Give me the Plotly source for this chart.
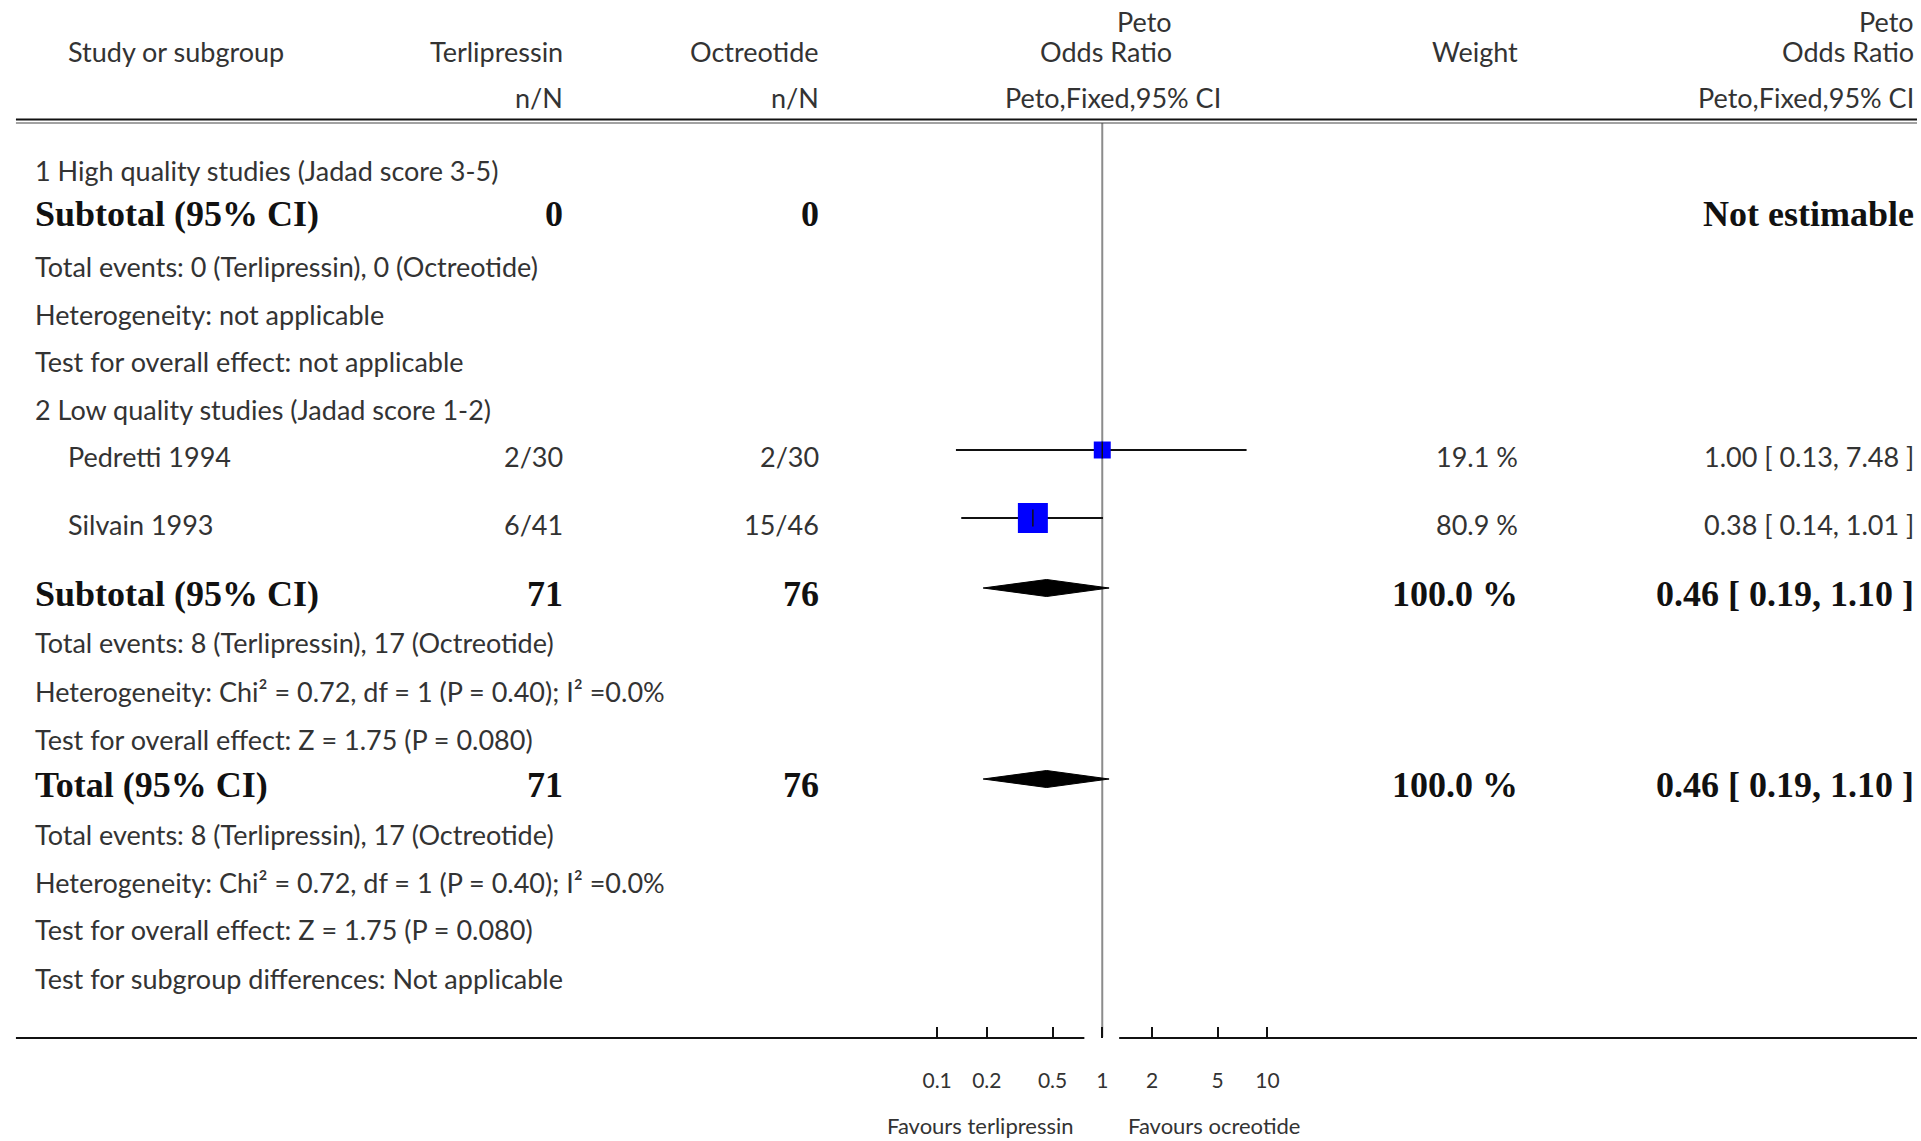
import plotly.graph_objects as go

# ---------------- data ----------------
studies = ["Pedretti 1994", "Silvain 1993"]
terli_events = [2, 6]
terli_total = [30, 41]
octr_events = [2, 15]
octr_total = [30, 46]
weights = [19.1, 80.9]
or_est = [1.00, 0.38]
or_lo = [0.13, 0.14]
or_hi = [7.48, 1.01]

sub_est, sub_lo, sub_hi = 0.46, 0.19, 1.10
tot_est, tot_lo, tot_hi = 0.46, 0.19, 1.10
sub_terli_N, sub_octr_N = 71, 76

tick_vals = [0.1, 0.2, 0.5, 1, 2, 5, 10]
tick_text = ["0.1", "0.2", "0.5", "1", "2", "5", "10"]

# ---------------- layout constants (pixels) ----------------
W, H = 1921, 1141
REG = dict(family="Lato, 'Open Sans', sans-serif", size=27, color="#333333")
BOLD = dict(family="'Liberation Serif', 'DejaVu Serif', serif", size=36, color="#111111")

X_STUDY_L = 27
X_STUDY_IN = 60
X_TERLI_R = 562
X_OCTR_R = 819
X_WEIGHT_R = 1522
X_OR_R = 1920

# log axis geometry: 0.1 -> 936 px, 10 -> 1268 px
PX_DEC = (1268 - 936) / 2
PAD = 0.05

fig = go.Figure()
ann = []


def txt(x, y, s, anchor="left", font=REG):
    ann.append(dict(x=x, y=y, xref="x2", yref="y", text=s, showarrow=False,
                    xanchor=anchor, yanchor="middle", font=font))


# header
txt(X_STUDY_IN, 51, "Study or subgroup")
txt(X_TERLI_R, 51, "Terlipressin", "right")
txt(X_TERLI_R, 97, "n/N", "right")
txt(X_OCTR_R, 51, "Octreotide", "right")
txt(X_OCTR_R, 97, "n/N", "right")
txt(1174, 21, "Peto", "right")
txt(1174, 51, "Odds Ratio", "right")
txt(1223, 97, "Peto,Fixed,95% CI", "right")
txt(X_WEIGHT_R, 51, "Weight", "right")
txt(X_OR_R, 21, "Peto", "right")
txt(X_OR_R, 51, "Odds Ratio", "right")
txt(X_OR_R, 97, "Peto,Fixed,95% CI", "right")

# subgroup 1
txt(X_STUDY_L, 170, "1 High quality studies (Jadad score 3-5)")
txt(X_STUDY_L, 214, "<b>Subtotal (95% CI)</b>", font=BOLD)
txt(X_TERLI_R, 214, "<b>0</b>", "right", BOLD)
txt(X_OCTR_R, 214, "<b>0</b>", "right", BOLD)
txt(X_OR_R, 214, "<b>Not estimable</b>", "right", BOLD)
txt(X_STUDY_L, 266, "Total events: 0 (Terlipressin), 0 (Octreotide)")
txt(X_STUDY_L, 314, "Heterogeneity: not applicable")
txt(X_STUDY_L, 361, "Test for overall effect: not applicable")

# subgroup 2
txt(X_STUDY_L, 409, "2 Low quality studies (Jadad score 1-2)")
study_y = [456, 524]
for i, name in enumerate(studies):
    y = study_y[i]
    txt(X_STUDY_IN, y, name)
    txt(X_TERLI_R, y, f"{terli_events[i]}/{terli_total[i]}", "right")
    txt(X_OCTR_R, y, f"{octr_events[i]}/{octr_total[i]}", "right")
    txt(X_WEIGHT_R, y, f"{weights[i]:.1f} %", "right")
    txt(X_OR_R, y, f"{or_est[i]:.2f} [ {or_lo[i]:.2f}, {or_hi[i]:.2f} ]", "right")

SUB_Y = 594
txt(X_STUDY_L, SUB_Y, "<b>Subtotal (95% CI)</b>", font=BOLD)
txt(X_TERLI_R, SUB_Y, f"<b>{sub_terli_N}</b>", "right", BOLD)
txt(X_OCTR_R, SUB_Y, f"<b>{sub_octr_N}</b>", "right", BOLD)
txt(X_WEIGHT_R, SUB_Y, f"<b>{sum(weights):.1f} %</b>", "right", BOLD)
txt(X_OR_R, SUB_Y, f"<b>{sub_est:.2f} [ {sub_lo:.2f}, {sub_hi:.2f} ]</b>", "right", BOLD)
txt(X_STUDY_L, 642, f"Total events: {sum(terli_events)} (Terlipressin), {sum(octr_events)} (Octreotide)")
txt(X_STUDY_L, 691, "Heterogeneity: Chi² = 0.72, df = 1 (P = 0.40); I² =0.0%")
txt(X_STUDY_L, 739, "Test for overall effect: Z = 1.75 (P = 0.080)")

TOT_Y = 785
txt(X_STUDY_L, TOT_Y, "<b>Total (95% CI)</b>", font=BOLD)
txt(X_TERLI_R, TOT_Y, f"<b>{sub_terli_N}</b>", "right", BOLD)
txt(X_OCTR_R, TOT_Y, f"<b>{sub_octr_N}</b>", "right", BOLD)
txt(X_WEIGHT_R, TOT_Y, f"<b>{sum(weights):.1f} %</b>", "right", BOLD)
txt(X_OR_R, TOT_Y, f"<b>{tot_est:.2f} [ {tot_lo:.2f}, {tot_hi:.2f} ]</b>", "right", BOLD)
txt(X_STUDY_L, 834, f"Total events: {sum(terli_events)} (Terlipressin), {sum(octr_events)} (Octreotide)")
txt(X_STUDY_L, 882, "Heterogeneity: Chi² = 0.72, df = 1 (P = 0.40); I² =0.0%")
txt(X_STUDY_L, 929, "Test for overall effect: Z = 1.75 (P = 0.080)")
txt(X_STUDY_L, 978, "Test for subgroup differences: Not applicable")

# favours labels
SMALL = dict(REG, size=22)
txt(1076, 1125, "Favours terlipressin", "right", SMALL)
txt(1126, 1125, "Favours ocreotide", "left", SMALL)

# ---------------- forest marks ----------------
MARK_OFF = -6
AXIS_Y = 1038

# vertical line of no effect
fig.add_trace(go.Scatter(x=[1, 1], y=[123, AXIS_Y - 1], mode="lines",
                         line=dict(color="#8c8c8c", width=2), xaxis="x", yaxis="y",
                         hoverinfo="skip", showlegend=False))

# CI lines
for i in range(len(studies)):
    y = study_y[i] + MARK_OFF
    fig.add_trace(go.Scatter(x=[or_lo[i], or_hi[i]], y=[y, y], mode="lines",
                             line=dict(color="#111111", width=2), xaxis="x", yaxis="y",
                             hoverinfo="skip", showlegend=False))

# weighted squares
fig.add_trace(go.Scatter(
    x=or_est, y=[y + MARK_OFF for y in study_y], mode="markers",
    marker=dict(symbol="square", color="#0000ff", opacity=1,
                size=[4.7 + 2.81 * w ** 0.5 for w in weights],
                line=dict(width=0)),
    opacity=1, xaxis="x", yaxis="y", showlegend=False))
# centre ticks
fig.add_trace(go.Scatter(
    x=or_est, y=[y + MARK_OFF for y in study_y], mode="markers",
    marker=dict(symbol="line-ns-open", color="#111111", size=12, line=dict(width=1.5, color="#111111")),
    xaxis="x", yaxis="y", showlegend=False))

# diamonds
DH = 8.5
for est, lo, hi, yt in [(sub_est, sub_lo, sub_hi, SUB_Y), (tot_est, tot_lo, tot_hi, TOT_Y)]:
    yc = yt + MARK_OFF
    fig.add_trace(go.Scatter(x=[lo, est, hi, est, lo], y=[yc, yc - DH, yc, yc + DH, yc],
                             mode="lines", fill="toself", fillcolor="#000000",
                             line=dict(color="#000000", width=1), xaxis="x", yaxis="y",
                             hoverinfo="skip", showlegend=False))

# ---------------- lines (header + axis baseline) ----------------
shapes = [
    dict(type="line", xref="x2", yref="y", x0=10, x1=W, y0=119.5, y1=119.5,
         line=dict(color="#111111", width=2)),
    dict(type="line", xref="x2", yref="y", x0=10, x1=W, y0=123, y1=123,
         line=dict(color="#444444", width=1)),
    dict(type="line", xref="x2", yref="y", x0=10, x1=1084, y0=AXIS_Y, y1=AXIS_Y,
         line=dict(color="#111111", width=2)),
    dict(type="line", xref="x2", yref="y", x0=1119, x1=W, y0=AXIS_Y, y1=AXIS_Y,
         line=dict(color="#111111", width=2)),
]

fig.update_layout(
    width=W, height=H,
    margin=dict(l=0, r=0, t=0, b=0),
    paper_bgcolor="white", plot_bgcolor="rgba(0,0,0,0)",
    showlegend=False,
    annotations=ann,
    shapes=shapes,
    xaxis=dict(type="log", range=[-1 - PAD, 1 + PAD],
               domain=[(936 - PAD * PX_DEC) / W, (1268 + PAD * PX_DEC) / W],
               anchor="free", position=(H - AXIS_Y) / H,
               tickvals=tick_vals, ticktext=tick_text,
               ticks="inside", ticklen=11, tickwidth=2, tickcolor="#111111",
               ticklabelstandoff=28,
               tickfont=dict(family=REG["family"], size=21, color="#333333"),
               showline=False, showgrid=False, zeroline=False, fixedrange=True),
    xaxis2=dict(range=[0, W], domain=[0, 1], anchor="y",
                visible=False, fixedrange=True),
    yaxis=dict(range=[H, 0], domain=[0, 1], visible=False, fixedrange=True),
)

fig.write_html("out.html", config=dict(displayModeBar=False, responsive=False),
               post_script="document.body.style.margin='0';document.body.style.overflow='hidden';")
